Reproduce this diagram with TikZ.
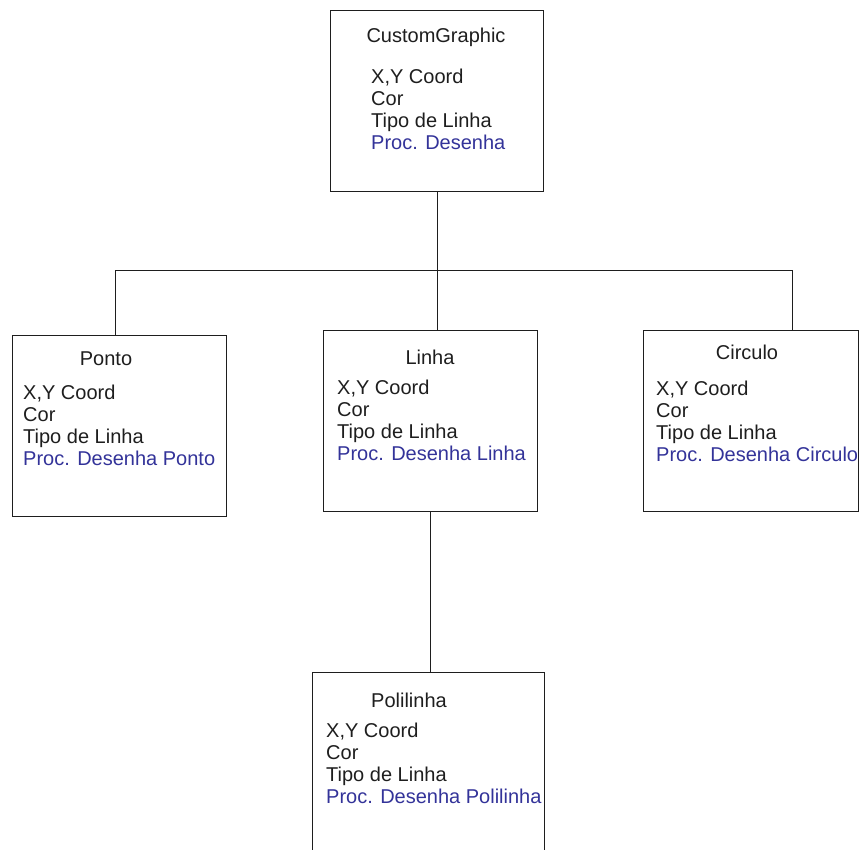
\documentclass[tikz,border=0pt]{standalone}
\usepackage{fontspec}
\setmainfont{Liberation Sans}
\definecolor{ink}{RGB}{30,30,30}
\definecolor{proc}{RGB}{51,51,153}
\tikzset{
  classbox/.style={draw=ink,line width=1pt,minimum width=214,minimum height=181,inner sep=0},
  txt/.style={inner sep=0,text=ink,font=\fontsize{20}{22}\selectfont},
  title/.style={txt,anchor=base},
  attr/.style={txt,anchor=base west}
}
\begin{document}
\begin{tikzpicture}[x=1pt,y=-1pt]
  \useasboundingbox (0,0) rectangle (861,849);
  \clip (0,0) rectangle (861,849);
  % caixas das classes
  \node[classbox,minimum width=213] (custom) at (437,100.5) {};
  \node[classbox] (ponto) at (119,425.5) {};
  \node[classbox] (linha) at (430,420.5) {};
  \node[classbox,minimum width=215] (circulo) at (750.5,421) {};
  \node[classbox,minimum width=232,minimum height=200] (polilinha) at (428,772) {};
  % nomes
  \foreach \x/\y/\nome in {436/42/CustomGraphic,106/365/Ponto,
    430/364/Linha,747/359/Circulo,409/707/Polilinha}
  \path (\x,\y) node[title] (t\nome) {\nome};
  % atributos e procedimento
  \foreach \x/\y/\proc [count=\n] in {371/83/{Proc. Desenha},
    23/399/{Proc. Desenha Ponto},337/394/{Proc. Desenha Linha},
    656/395/{Proc. Desenha Circulo},326/737/{Proc. Desenha Polilinha}}
  {
    \path (\x,\y) node[attr] (a\n) {X,Y Coord}
      (\x,\y+22.3) node[attr] (b\n) {Cor}
      (\x,\y+44.6) node[attr] (c\n) {Tipo de Linha}
      (\x,\y+66.9) node[attr,text=proc] (d\n) {\proc};
  }
  % ligacoes (yshift conta para cima)
  \coordinate (bus) at ([yshift=-79]custom.south);
  \draw[ink,line width=1pt] (custom.south) -- (bus)
    (bus) -- (bus |- linha.north)
    ([xshift=-4]ponto.north) |- (bus) -| ([xshift=41.5]circulo.north)
    (linha.south) -- (linha.south |- polilinha.north);
\end{tikzpicture}
\end{document}
